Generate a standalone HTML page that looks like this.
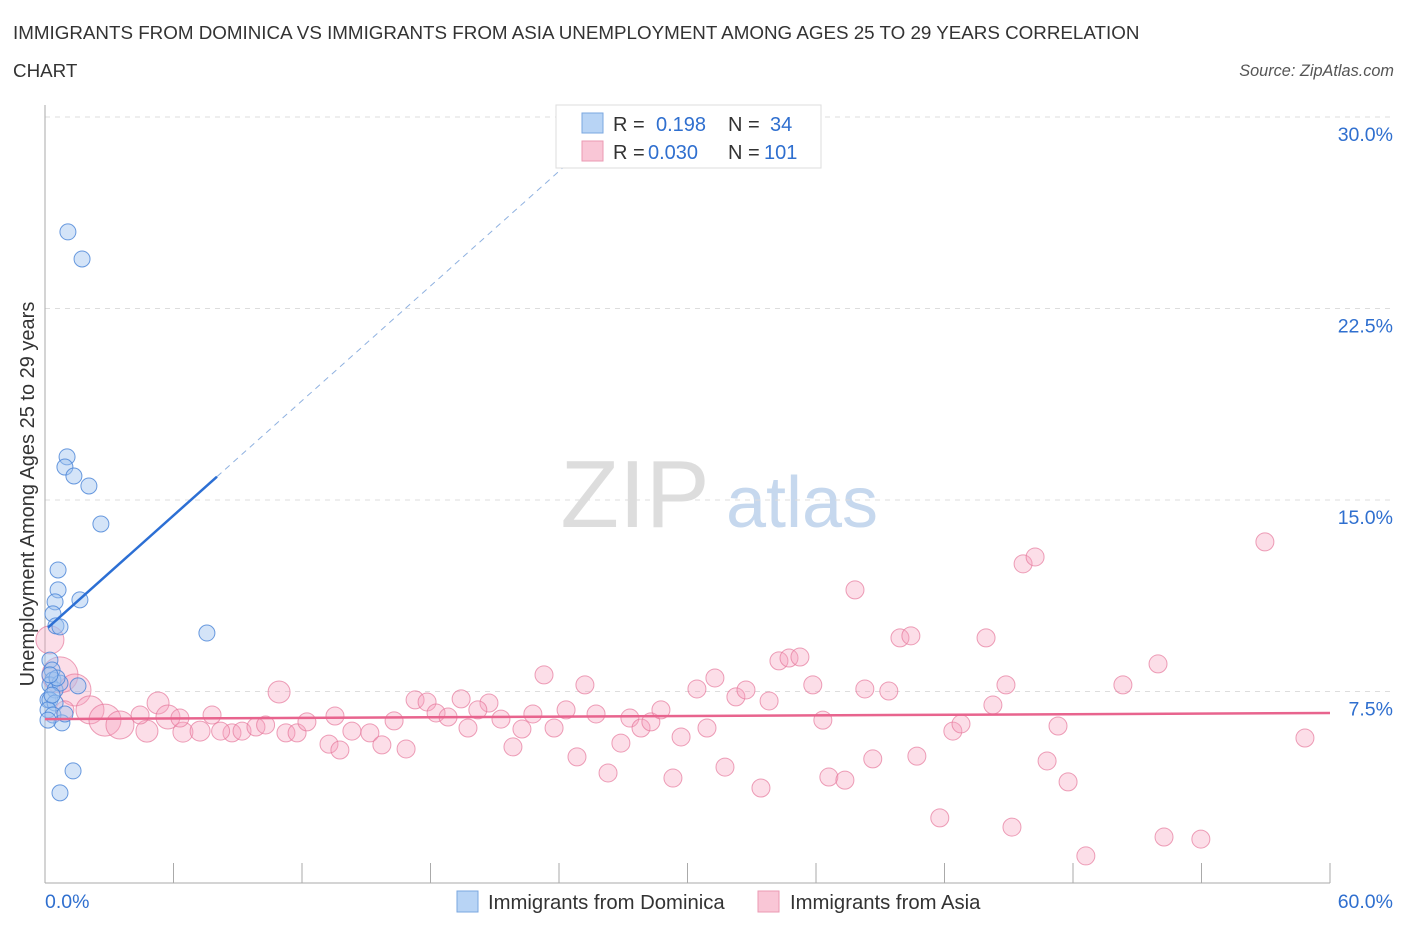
<!DOCTYPE html>
<html><head><meta charset="utf-8"><style>
body{margin:0;background:#fff;font-family:"Liberation Sans",sans-serif}
svg text{font-family:"Liberation Sans",sans-serif}
</style></head><body>
<svg id="chart" width="1406" height="930" xmlns="http://www.w3.org/2000/svg">
<text x="13" y="39" font-size="18.8" fill="#333">IMMIGRANTS FROM DOMINICA VS IMMIGRANTS FROM ASIA UNEMPLOYMENT AMONG AGES 25 TO 29 YEARS CORRELATION</text>
<text x="13" y="77" font-size="18.8" fill="#333">CHART</text>
<text x="1394" y="76" font-size="16.3" fill="#555" text-anchor="end" font-style="italic">Source: ZipAtlas.com</text>
<g>
<text x="635" y="527" font-size="96" fill="#ddd" text-anchor="middle" font-family="Liberation Serif">ZIP</text>
<text x="802" y="527" font-size="72" fill="#c6d8ee" text-anchor="middle">atlas</text>
</g>
<g id="grid"></g>
<g id="axes"></g>
<g id="marks"></g>
<g id="lines"></g>
<text transform="translate(34,494) rotate(-90)" font-size="20" fill="#333" text-anchor="middle">Unemployment Among Ages 25 to 29 years</text>
<g>
<rect x="556" y="105" width="265" height="63" fill="#fff" stroke="#ddd"/>
<rect x="582" y="113" width="21" height="20" fill="#b8d4f5" stroke="#7aa7e0"/>
<rect x="582" y="141" width="21" height="20" fill="#f9c6d6" stroke="#eb9ab3"/>
<text x="613" y="131" font-size="20" fill="#333">R =</text>
<text x="656" y="131" font-size="20" fill="#2f6fcf">0.198</text>
<text x="728" y="131" font-size="20" fill="#333">N =</text>
<text x="770" y="131" font-size="20" fill="#2f6fcf">34</text>
<text x="613" y="159" font-size="20" fill="#333">R =</text>
<text x="648" y="159" font-size="20" fill="#2f6fcf">0.030</text>
<text x="728" y="159" font-size="20" fill="#333">N =</text>
<text x="764" y="159" font-size="20" fill="#2f6fcf">101</text>
</g>
<g>
<rect x="457" y="891" width="21" height="21" fill="#b8d4f5" stroke="#7aa7e0"/>
<text x="488" y="909" font-size="20.3" fill="#333">Immigrants from Dominica</text>
<rect x="758" y="891" width="21" height="21" fill="#f9c6d6" stroke="#eb9ab3"/>
<text x="790" y="909" font-size="20.3" fill="#333">Immigrants from Asia</text>
</g>
</svg>
<script>
const yTicks=[7.5,15,22.5,30];
const yTickLabels=["7.5%","15.0%","22.5%","30.0%"];
const xTicks=[0,6,12,18,24,30,36,42,48,54,60];
const xEndLabels=["0.0%","60.0%"];
const domX=[0.14,1.07,1.73,1.03,0.93,1.35,2.05,2.61,0.61,0.61,0.47,1.63,0.37,0.51,0.70,7.56,0.23,0.33,0.37,0.23,0.47,0.70,1.54,0.23,0.47,0.14,0.37,0.79,0.93,1.31,0.70,0.14,0.33,0.56,0.23];
const domY=[7.17,25.5,24.44,16.69,16.29,15.94,15.55,14.06,12.26,11.48,11.01,11.09,10.54,10.07,10.03,9.79,8.73,8.34,7.95,7.76,7.56,7.83,7.72,7.17,7.05,6.78,6.58,6.27,6.62,4.39,3.53,6.38,7.36,8.03,8.15];
const asiaX=[0.7,0.23,1.4,2.1,2.8,3.5,4.76,5.28,5.74,6.44,7.24,7.8,8.73,9.2,9.85,10.3,10.93,11.25,11.77,12.23,13.26,13.77,13.54,14.33,15.17,15.73,16.3,16.86,17.28,17.84,18.26,18.82,19.43,19.75,20.73,20.21,21.29,21.85,22.27,22.78,23.3,23.77,24.33,24.84,25.21,25.73,26.29,26.89,27.31,27.83,28.29,28.76,29.32,29.7,30.44,30.91,31.28,31.75,32.26,32.73,33.43,33.81,34.27,34.74,35.25,35.85,36.32,36.6,37.35,37.82,38.28,38.65,39.4,39.92,40.43,40.71,41.78,42.39,42.77,43.94,44.26,44.87,45.15,45.67,46.23,46.79,47.3,47.77,48.6,50.33,51.97,52.25,53.97,56.96,58.83,0.93,4.44,6.3,8.2];
const asiaY=[8.15,9.52,7.56,6.78,6.38,6.19,5.95,7.05,6.5,5.91,5.95,6.58,5.88,5.95,6.11,6.19,7.48,5.88,5.88,6.31,5.44,5.21,6.54,5.95,5.88,5.41,6.35,5.25,7.17,7.09,6.66,6.5,7.21,6.07,7.05,6.78,6.42,5.33,6.03,6.62,8.15,6.07,6.78,4.94,7.76,6.62,4.31,5.48,6.46,6.07,6.31,6.78,4.11,5.72,7.6,6.07,8.03,4.54,7.29,7.56,3.72,7.13,8.7,8.81,8.85,7.76,6.38,4.15,4.03,11.48,7.6,4.86,7.52,9.6,9.68,4.97,2.55,5.95,6.23,9.6,6.97,7.76,2.19,12.5,12.77,4.78,6.15,3.96,1.06,7.76,8.58,1.8,1.72,13.36,5.68,6.78,6.58,6.46,5.95];
const asiaR=[18,14,16,14,16,14,11,11,12,10,10,9,9,9,9,9,11];
const domTrend=[9.9,0.749];   // intercept, slope
const asiaTrend=[6.42,0.004];
const X=v=>45+v*1285/60, Y=v=>883-v*191.5/7.5;
const NS="http://www.w3.org/2000/svg";
function mk(t,a,p){const e=document.createElementNS(NS,t);for(const k in a)e.setAttribute(k,a[k]);p.appendChild(e);return e;}
const grid=document.getElementById('grid'),axes=document.getElementById('axes'),marks=document.getElementById('marks'),lines=document.getElementById('lines');
yTicks.forEach((t,i)=>{
 const l=mk('line',{x1:45,x2:1394,y1:Y(t),y2:Y(t),stroke:'#ddd','stroke-dasharray':'5,5'},grid);
 
 
 const tx=mk('text',{x:1393,y:Y(t)+24,'font-size':19.5,fill:'#2f6fcf','text-anchor':'end'},axes);
 tx.textContent=yTickLabels[i];
 
 
});
const ya=mk('line',{x1:45,x2:45,y1:105,y2:883,stroke:'#aaa'},axes);


const xa=mk('line',{x1:45,x2:1330,y1:883,y2:883,stroke:'#aaa'},axes);


xTicks.forEach(t=>{
 const l=mk('line',{x1:X(t),x2:X(t),y1:863,y2:883,stroke:'#aaa'},axes);
 
 
});
const xl0=mk('text',{x:45,y:908,'font-size':19.5,fill:'#2f6fcf'},axes);xl0.textContent=xEndLabels[0];


const xl1=mk('text',{x:1393,y:908,'font-size':19.5,fill:'#2f6fcf','text-anchor':'end'},axes);xl1.textContent=xEndLabels[1];


asiaX.forEach((v,i)=>{
 const c=mk('circle',{cx:X(v),cy:Y(asiaY[i]),r:asiaR[i]||9,fill:'rgba(245,160,190,0.35)',stroke:'rgba(230,120,155,0.7)','stroke-width':1},marks);
 
 
});
domX.forEach((v,i)=>{
 const c=mk('circle',{cx:X(v),cy:Y(domY[i]),r:8,fill:'rgba(160,195,240,0.45)',stroke:'rgba(70,130,215,0.8)','stroke-width':1},marks);
 
 
});
const dx1=0.14,dx2=8.03,dx3=(30-domTrend[0])/domTrend[1];
const d1=mk('line',{x1:X(dx1),y1:Y(domTrend[0]+domTrend[1]*dx1),x2:X(dx2),y2:Y(domTrend[0]+domTrend[1]*dx2),stroke:'#2c6fd4','stroke-width':2.5},lines);


const d2=mk('line',{x1:X(dx2),y1:Y(domTrend[0]+domTrend[1]*dx2),x2:X(dx3),y2:Y(30),stroke:'#8fb1e0','stroke-width':1,'stroke-dasharray':'6,5'},lines);


const a1=mk('line',{x1:X(0),y1:Y(asiaTrend[0]),x2:X(60),y2:Y(asiaTrend[0]+asiaTrend[1]*60),stroke:'#e8648e','stroke-width':2.5},lines);


</script>
</body></html>
